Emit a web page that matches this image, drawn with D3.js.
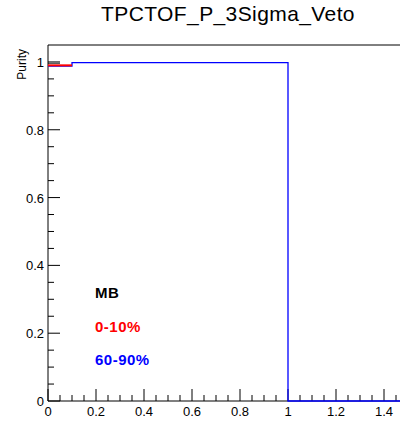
<!DOCTYPE html>
<html lang="en">
<head>
<meta charset="UTF-8">
<title>TPCTOF_P_3Sigma_Veto</title>
<script src="https://d3js.org/d3.v7.min.js"></script>
<style>
    body { margin: 0; background: #fff; }
    svg { display: block; font-family: "Liberation Sans", Arial, sans-serif; }
</style>
</head>
<body>
<svg width="400" height="421"></svg>
<script>
// histogram bin edges and contents
const mbEdges = [0, 0.05];
const mbValues = [0.996];
const centralEdges = [0, 0.1];
const centralValues = [0.99];
const periphEdges = [0, 0.1, 1.0, 1.5];
const periphValues = [0.988, 0.998, 0];
const xTicks = [0, 0.2, 0.4, 0.6, 0.8, 1, 1.2, 1.4];
const yTicks = [0, 0.2, 0.4, 0.6, 0.8, 1];
const labels = ["MB", "0-10%", "60-90%"];
const labelColors = ["#000000", "#ff0000", "#0000ff"];

const svg = d3.select("svg");
const x = d3.scaleLinear().domain([0, 1.5]).range([48, 408]);
const y = d3.scaleLinear().domain([0, 1.05]).range([401, 45]);

// frame top
svg.append("line").attr("x1", x(0)).attr("x2", x(1.5)).attr("y1", y(1.05)).attr("y2", y(1.05))
    .attr("stroke", "#000").attr("stroke-width", 1);

// major + minor ticks
const minorX = d3.range(0, 1.5001, 0.05);
const minorY = d3.range(0, 1.0001, 0.05);
const isMajor = d => Math.abs(d * 5 - Math.round(d * 5)) < 1e-6;

const g = svg.append("g");
g.selectAll(".mx").data(minorX).enter().append("line")
    .attr("x1", d => x(d)).attr("x2", d => x(d))
    .attr("y1", y(0)).attr("y2", d => y(0) - (isMajor(d) ? 12 : 6))
    .attr("stroke", "#000");
g.selectAll(".my").data(minorY).enter().append("line")
    .attr("y1", d => y(d)).attr("y2", d => y(d))
    .attr("x1", x(0)).attr("x2", d => x(0) + (isMajor(d) ? 12 : 6))
    .attr("stroke", "#000");

// axis lines
svg.append("line").attr("x1", x(0)).attr("x2", x(1.5)).attr("y1", y(0)).attr("y2", y(0)).attr("stroke", "#000");
svg.append("line").attr("x1", x(0)).attr("x2", x(0)).attr("y1", y(0)).attr("y2", y(1.05)).attr("stroke", "#000");

// tick labels
svg.selectAll(".xl").data(xTicks).enter().append("text")
    .attr("x", d => x(d)).attr("y", y(0) + 15)
    .attr("text-anchor", "middle").attr("font-size", 13)
    .text(d => d3.format("~g")(d));
svg.selectAll(".yl").data(yTicks).enter().append("text")
    .attr("x", x(0) - 4).attr("y", d => y(d) + 5)
    .attr("text-anchor", "end").attr("font-size", 13)
    .text(d => d3.format("~g")(d));

// y title
svg.append("text").attr("transform", `translate(26,${y(1.05) + 4}) rotate(-90)`)
    .attr("text-anchor", "end").attr("font-size", 12).text("Purity");

// title
svg.append("text").attr("x", 228).attr("y", 21).attr("text-anchor", "middle")
    .attr("font-size", 21).attr("letter-spacing", 0.4).text("TPCTOF_P_3Sigma_Veto");

// histograms
function stepPath(edges, values) {
    const p = d3.path();
    p.moveTo(x(edges[0]), y(values[0]));
    values.forEach((v, i) => {
        if (i > 0) p.lineTo(x(edges[i]), y(v));
        p.lineTo(x(edges[i + 1]), y(v));
    });
    return p.toString();
}

svg.append("path").attr("d", stepPath(periphEdges, periphValues))
    .attr("fill", "none").attr("stroke", "#0000ff").attr("stroke-width", 1.3);
svg.append("path").attr("d", stepPath(centralEdges, centralValues))
    .attr("fill", "none").attr("stroke", "#ff0000").attr("stroke-width", 2);
svg.append("path").attr("d", stepPath(mbEdges, mbValues))
    .attr("fill", "none").attr("stroke", "#000000").attr("stroke-width", 1.2).attr("opacity", 0.7);

// labels
svg.selectAll(".lab").data(labels).enter().append("text")
    .attr("x", 95).attr("y", (d, i) => 298 + i * 33.7)
    .attr("font-size", 15).attr("font-weight", "bold").attr("letter-spacing", 0.5)
    .attr("fill", (d, i) => labelColors[i])
    .text(d => d);
</script>
</body>
</html>
